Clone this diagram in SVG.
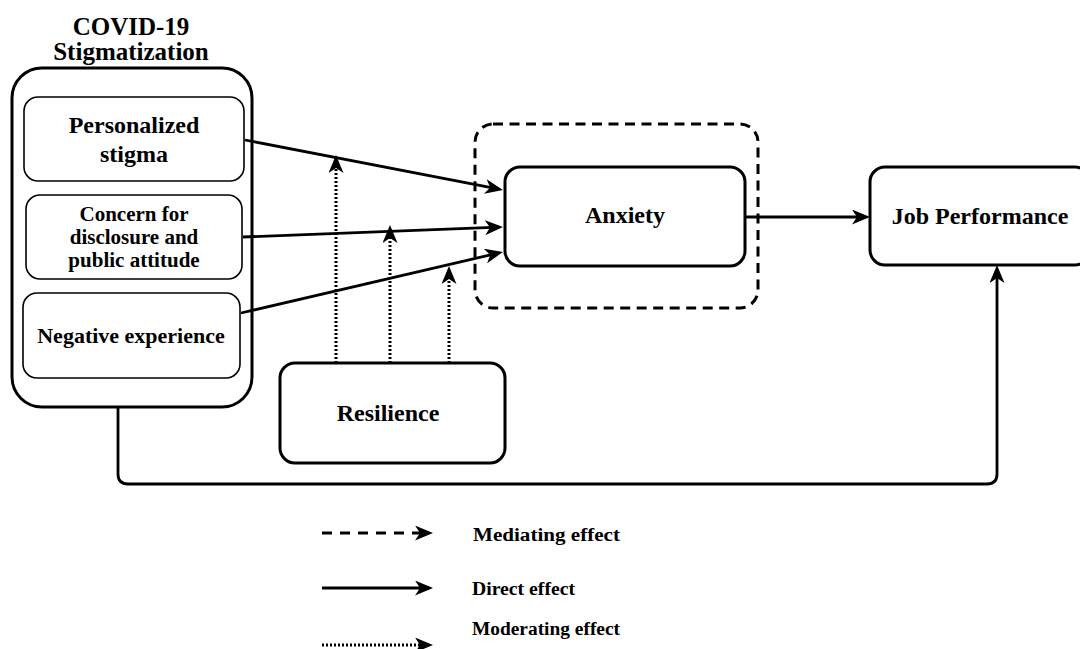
<svg xmlns="http://www.w3.org/2000/svg" width="1080" height="649" viewBox="0 0 1080 649">
  <style>
    .box { fill: #fff; stroke: #000; stroke-width: 3; }
    .sub { fill: #fff; stroke: #000; stroke-width: 1.6; }
    .dash { fill: none; stroke: #000; stroke-width: 3; stroke-dasharray: 10 6.5; }
    text { font-family: 'Liberation Serif', 'DejaVu Serif', serif; font-weight: 700; fill: #000; }
    .lbl { text-anchor: middle; }
    .leg { font-size: 18px; }
    .direct { fill: none; stroke: #000; stroke-width: 2.8; marker-end: url(#arrow); }
    .dotted { fill: none; stroke: #000; stroke-width: 3; stroke-dasharray: 2 2; marker-end: url(#arrow); }
    .dashed { fill: none; stroke: #000; stroke-width: 3; stroke-dasharray: 10 8; marker-end: url(#arrow); }
  </style>
  <defs>
    <marker id="arrow" viewBox="0 0 18 15" refX="14" refY="7.5" markerWidth="18" markerHeight="15" markerUnits="userSpaceOnUse" orient="auto">
      <path d="M0,0 L18,7.5 L0,15 L5,7.5 Z" fill="#000"/>
    </marker>
  </defs>

  <rect width="1080" height="649" fill="#fff"/>

  <!-- Stigmatization construct with its three dimensions -->
  <g id="stigmatization">
    <text class="lbl" x="131" y="35" font-size="25">COVID-19</text>
    <text class="lbl" x="131" y="60" font-size="25">Stigmatization</text>
    <rect class="box" x="12" y="68" width="240" height="339" rx="30" ry="30"/>
  </g>
  <g id="personalized-stigma">
    <rect class="sub" x="24" y="97" width="220" height="84" rx="14" ry="14"/>
    <text class="lbl" x="134" y="133" font-size="24">Personalized</text>
    <text class="lbl" x="134" y="162" font-size="24">stigma</text>
  </g>
  <g id="concern-disclosure">
    <rect class="sub" x="26" y="195" width="216" height="84" rx="14" ry="14"/>
    <text class="lbl" x="134" y="221" font-size="21">Concern for</text>
    <text class="lbl" x="134" y="244" font-size="21">disclosure and</text>
    <text class="lbl" x="134" y="267" font-size="21">public attitude</text>
  </g>
  <g id="negative-experience">
    <rect class="sub" x="23" y="293" width="217" height="85" rx="14" ry="14"/>
    <text class="lbl" x="131" y="343" font-size="22">Negative experience</text>
  </g>

  <!-- Mediator -->
  <g id="anxiety">
    <rect class="dash" x="475" y="124" width="283" height="184" rx="18" ry="18"/>
    <rect class="box" x="505" y="167" width="240" height="99" rx="15" ry="15"/>
    <text class="lbl" x="625" y="223" font-size="24">Anxiety</text>
  </g>

  <!-- Outcome -->
  <g id="job-performance">
    <rect class="box" x="870" y="167" width="220" height="98" rx="15" ry="15"/>
    <text class="lbl" x="980" y="224" font-size="24">Job Performance</text>
  </g>

  <!-- Moderator -->
  <g id="resilience">
    <rect class="box" x="280" y="363" width="225" height="100" rx="15" ry="15"/>
    <text class="lbl" x="388" y="421" font-size="24">Resilience</text>
  </g>

  <!-- Paths between constructs -->
  <g id="connectors">
    <path class="direct" d="M245,140 L499,189.2"/>
    <path class="direct" d="M243,237 L499,227.2"/>
    <path class="direct" d="M241,313 L499,252.9"/>
    <path class="dotted" d="M336,363 V159"/>
    <path class="dotted" d="M390,363 V229"/>
    <path class="dotted" d="M449,363 V270"/>
    <path class="direct" d="M745,217 H866"/>
    <path class="direct" d="M118,407 V474 Q118,484 128,484 H987 Q997,484 997,474 V269"/>
  </g>

  <!-- Legend -->
  <g id="legend">
    <path class="dashed" d="M322,533 H429"/>
    <text class="leg" x="473" y="541" textLength="147" lengthAdjust="spacingAndGlyphs">Mediating effect</text>
    <path class="direct" d="M322,588 H429"/>
    <text class="leg" x="472" y="595" textLength="103" lengthAdjust="spacingAndGlyphs">Direct effect</text>
    <path class="dotted" d="M322,645 H429"/>
    <text class="leg" x="472" y="635" textLength="148" lengthAdjust="spacingAndGlyphs">Moderating effect</text>
  </g>
</svg>
